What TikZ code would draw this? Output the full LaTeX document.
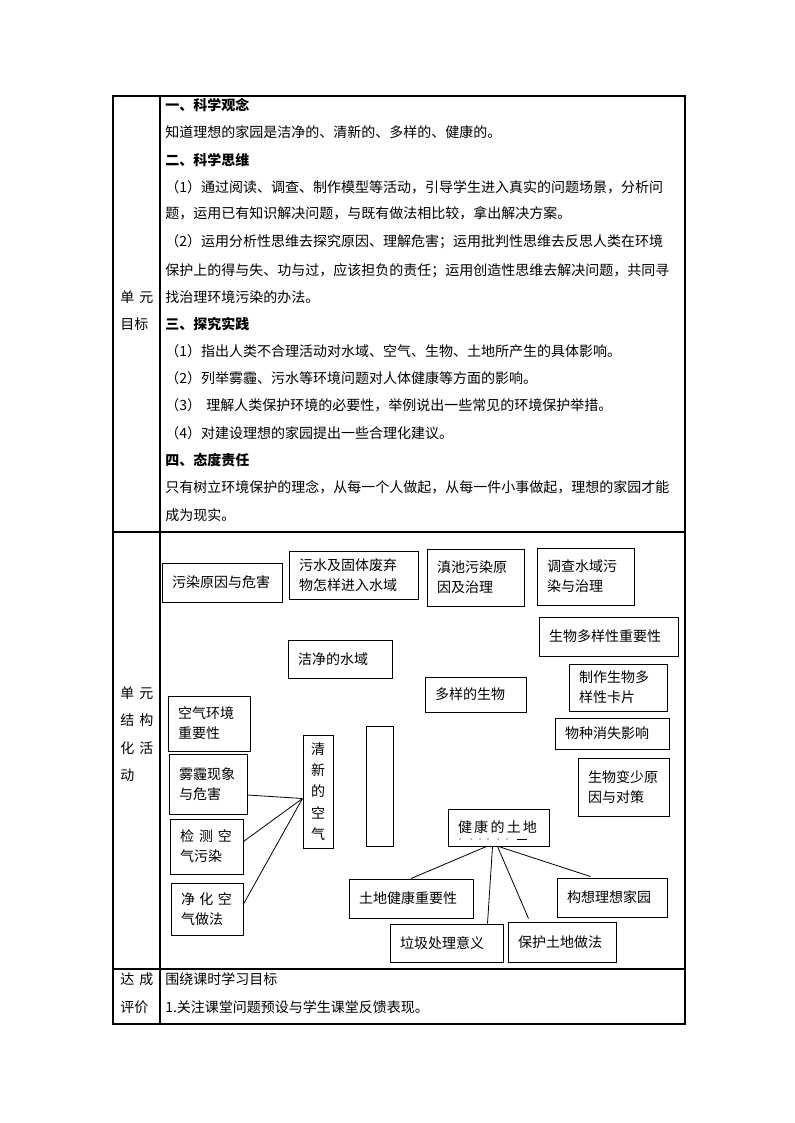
\documentclass[tikz,border=0pt]{standalone}
\usepackage{fontspec}
\setmainfont{Noto Sans CJK SC}
\usetikzlibrary{calc}
\newdimen\pxu \pxu=0.75pt
\newcommand{\cjkglue}{\hskip 0pt plus 3pt\relax}
\XeTeXinterchartokenstate=1
\newcommand{\cjpair}[2]{\XeTeXinterchartoks #1 #2 = {\cjkglue}}
\cjpair{0}{1}\cjpair{0}{2}\cjpair{0}{3}\cjpair{0}{6}
\cjpair{1}{0}\cjpair{1}{1}\cjpair{1}{2}\cjpair{1}{3}\cjpair{1}{6}
\cjpair{2}{0}\cjpair{2}{1}\cjpair{2}{2}\cjpair{2}{3}
\cjpair{3}{0}\cjpair{3}{1}\cjpair{3}{2}\cjpair{3}{3}\cjpair{3}{6}
\cjpair{6}{0}\cjpair{6}{1}\cjpair{6}{2}\cjpair{6}{3}
\newcommand{\jl}[2]{\makebox[#1\pxu][s]{#2}}
\newcommand{\boxnode}[6]{%
  \pgfmathsetlengthmacro\tw{(#4-#2-20)*0.75pt}%
  \node[box, text width=\tw, minimum width={(#4-#2)*0.75pt}, minimum height={(#5-#3)*0.75pt}]
    (#1) at ({(#2+#4)/2},{(#3+#5)/2}) {#6};}
\tikzset{
  tbl/.style={line width=0.8pt, draw=black},
  box/.style={draw=black, line width=0.75pt, inner xsep=7.5pt, inner ysep=0pt, align=left},
  txt/.style={anchor=base west, inner sep=0pt},
  conn/.style={draw=black, line width=0.6pt},
}
\begin{document}
\begin{tikzpicture}[x=0.75pt, y=-0.75pt, font=\fontsize{10.5pt}{15pt}\selectfont]
\useasboundingbox (0,0) rectangle (794,1123);
\fill[white] (0,0) rectangle (794,1123);

% table
\draw[tbl] (113,96) rectangle (685,1024);
\draw[tbl] (160,96) -- (160,1024);
\draw[tbl] (113,532) -- (685,532);
\draw[tbl] (113,969) -- (685,969);

% left labels
\node[txt] (l1a) at (120,302) {\jl{33}{单\hfill 元}};
\node[txt] (l1b) at (120,329) {目标};
\node[txt] (l2a) at (120,698) {\jl{33}{单\hfill 元}};
\node[txt] (l2b) at (120,725) {\jl{33}{结\hfill 构}};
\node[txt] (l2c) at (120,753) {\jl{33}{化\hfill 活}};
\node[txt] (l2d) at (120,780) {动};
\node[txt] (l3a) at (120,984) {\jl{33}{达\hfill 成}};
\node[txt] (l3b) at (120,1012) {评价};

% row 1 text
\node[txt] (r01) at (165,111) {\textbf{一、科学观念}};
\node[txt] (r02) at (165,138) {知道理想的家园是洁净的、清新的、多样的、健康的。};
\node[txt] (r03) at (165,166) {\textbf{二、科学思维}};
\node[txt] (r04) at (165,193) {\jl{518}{（1）通过阅读、调查、制作模型等活动，引导学生进入真实的问题场景，分析问}};
\node[txt] (r05) at (165,219) {题，运用已有知识解决问题，与既有做法相比较，拿出解决方案。};
\node[txt] (r06) at (165,247) {\jl{518}{（2）运用分析性思维去探究原因、理解危害；运用批判性思维去反思人类在环境}};
\node[txt] (r07) at (165,275) {\jl{518}{保护上的得与失、功与过，应该担负的责任；运用创造性思维去解决问题，共同寻}};
\node[txt] (r08) at (165,302) {找治理环境污染的办法。};
\node[txt] (r09) at (165,329) {\textbf{三、探究实践}};
\node[txt] (r10) at (165,356) {（1）指出人类不合理活动对水域、空气、生物、土地所产生的具体影响。};
\node[txt] (r11) at (165,383) {（2）列举雾霾、污水等环境问题对人体健康等方面的影响。};
\node[txt] (r12) at (165,410) {（3）\hspace{4pt}理解人类保护环境的必要性，举例说出一些常见的环境保护举措。};
\node[txt] (r13) at (165,438) {（4）对建设理想的家园提出一些合理化建议。};
\node[txt] (r14) at (165,465) {\textbf{四、态度责任}};
\node[txt] (r15) at (165,492) {\jl{518}{只有树立环境保护的理念，从每一个人做起，从每一件小事做起，理想的家园才能}};
\node[txt] (r16) at (165,520) {成为现实。};

% row 2 boxes
\boxnode{A}{162}{563}{282}{602}{污染原因与危害}
\boxnode{B}{289}{551}{418}{599}{\jl{109}{污水及固体废弃}\\物怎样进入水域}
\boxnode{C}{427}{549}{524}{606}{\jl{76}{滇池污染原}\\因及治理}
\boxnode{D}{537}{548}{634}{605}{\jl{75}{调查水域污}\\染与治理}
\boxnode{E}{539}{617}{678}{656}{生物多样性重要性}
\boxnode{F}{288}{640}{392}{678}{洁净的水域}
\boxnode{G}{425}{677}{526}{712}{多样的生物}
\boxnode{H}{569}{664}{667}{711}{\jl{76}{制作生物多}\\样性卡片}
\boxnode{I}{555}{718}{669}{749}{物种消失影响}
\boxnode{J}{168}{696}{250}{751}{\jl{61}{空气环境}\\重要性}
\boxnode{K}{169}{754}{247}{814}{雾霾现象\\与危害}
\node[draw=black, line width=0.75pt, inner xsep=8\pxu, inner ysep=0pt, text width=14\pxu,
      align=center, minimum height={113*0.75pt},
      font=\fontsize{10.5pt}{16pt}\selectfont] (L) at (318,791.5) {清\\新\\的\\空\\气};
\node[draw=black, line width=0.75pt, inner sep=0pt, minimum width={27*0.75pt},
      minimum height={120*0.75pt}] (M) at (379.5,786) {};
\boxnode{N}{578}{758}{669}{816}{生物变少原\\因与对策}
\boxnode{O}{448}{809}{549}{846}{\jl{79}{健\hfill 康\hfill 的\hfill 土\hfill 地}}
\boxnode{P}{170}{819}{243}{874}{\jl{52}{检\hfill 测\hfill 空}\\气污染}
\boxnode{Q}{171}{883}{243}{935}{\jl{51}{净\hfill 化\hfill 空}\\气做法}
\boxnode{R}{349}{879}{473}{918}{土地健康重要性}
\boxnode{S}{557}{878}{667}{917}{构想理想家园}
\boxnode{T}{390}{924}{503}{962}{垃圾处理意义}
\boxnode{U}{508}{922}{616}{962}{保护土地做法}

% emphasis marks under 健康的土地
\foreach \dx in {460,471,480,488,498,507} \fill (\dx,839) circle (0.45pt);
\draw[line width=0.7pt] (517,839) -- (527,839);

% connectors
\coordinate (Lhub) at ($(L.west)+(0,7)$);
\draw[conn] ($(K.east)+(0,11)$) -- (Lhub);
\draw[conn] ($(P.east)+(0,-5)$) -- (Lhub);
\draw[conn] ($(Q.east)+(0,-5)$) -- (Lhub);
\draw[conn] ($(O.south)+(-12,0)$) -- (R.north);
\draw[conn] ($(O.south)+(-6,0)$) -- ($(T.north west)+(98,0)$);
\draw[conn] ($(O.south)+(-1,0)$) -- ($(U.north west)+(21,-3)$);
\draw[conn] (O.south) -- ($(S.north west)+(34,-1)$);

% row 3 text
\node[txt] (e1) at (165,984) {围绕课时学习目标};
\node[txt] (e2) at (165,1012) {1.关注课堂问题预设与学生课堂反馈表现。};
\end{tikzpicture}
\end{document}
